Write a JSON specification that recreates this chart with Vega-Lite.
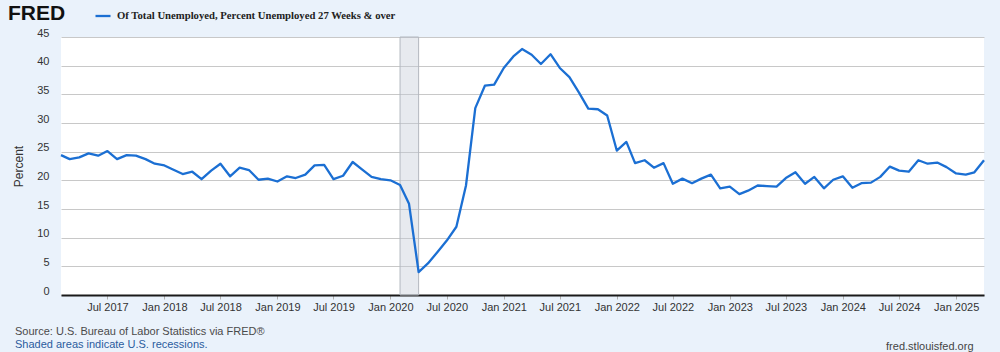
{
  "$schema": "https://vega.github.io/schema/vega-lite/v6.json",
  "width": 923,
  "height": 258,
  "autosize": {"type": "none"},
  "padding": {"left": 61, "top": 37, "right": 16, "bottom": 57},
  "background": "#eaf2fb",
  "config": {"view": {"stroke": null, "fill": "white"}},
  "title": {
    "text": "Source: U.S. Bureau of Labor Statistics via FRED®",
    "subtitle": "Shaded areas indicate U.S. recessions.",
    "orient": "bottom",
    "anchor": "start",
    "frame": "group",
    "dx": -46,
    "offset": -25,
    "font": "Liberation Sans",
    "fontSize": 11,
    "fontWeight": "normal",
    "color": "#4a4a4a",
    "subtitleFont": "Liberation Sans",
    "subtitleFontSize": 11,
    "subtitleColor": "#2b5c9e",
    "subtitlePadding": 2
  },
  "encoding": {
    "x": {
      "field": "date",
      "type": "temporal",
      "title": "fred.stlouisfed.org",
      "scale": {
        "type": "utc",
        "nice": false,
        "domain": [
          {"year": 2017, "month": 2, "date": 1, "utc": true},
          {"year": 2025, "month": 4, "date": 1, "utc": true}
        ]
      },
      "axis": {
        "tickCount": {"interval": "month", "step": 6},
        "format": "%b %Y",
        "grid": false,
        "domainColor": "#1a1a1a",
        "domainWidth": 2,
        "ticks": true,
        "tickSize": 4,
        "tickColor": "#b0b0b0",
        "labelPadding": 2,
        "labelFont": "Liberation Sans",
        "labelFontSize": 11,
        "labelColor": "#333333",
        "labelOverlap": false,
        "titleFont": "Liberation Sans",
        "titleFontSize": 11,
        "titleFontWeight": "normal",
        "titleColor": "#444444",
        "titleAnchor": "start",
        "titleAlign": "right",
        "titleBaseline": "alphabetic",
        "titleX": 912,
        "titleY": 54
      }
    }
  },
  "layer": [
    {
      "data": {"values": [{"date": "2020-02-01", "end": "2020-04-01"}]},
      "mark": {"type": "rect", "fill": "#c3cbd6", "fillOpacity": 0.4, "stroke": "#b3b8bf", "strokeWidth": 1},
      "encoding": {
        "x2": {"field": "end"}
      }
    },
    {
      "data": {"values": [
        {"date": "2017-02-01", "value": 24.4},
        {"date": "2017-03-01", "value": 23.7},
        {"date": "2017-04-01", "value": 24.0},
        {"date": "2017-05-01", "value": 24.7},
        {"date": "2017-06-01", "value": 24.3},
        {"date": "2017-07-01", "value": 25.1},
        {"date": "2017-08-01", "value": 23.7},
        {"date": "2017-09-01", "value": 24.4},
        {"date": "2017-10-01", "value": 24.3},
        {"date": "2017-11-01", "value": 23.7},
        {"date": "2017-12-01", "value": 22.9},
        {"date": "2018-01-01", "value": 22.6},
        {"date": "2018-02-01", "value": 21.8},
        {"date": "2018-03-01", "value": 21.1},
        {"date": "2018-04-01", "value": 21.5},
        {"date": "2018-05-01", "value": 20.2},
        {"date": "2018-06-01", "value": 21.7},
        {"date": "2018-07-01", "value": 22.9},
        {"date": "2018-08-01", "value": 20.7},
        {"date": "2018-09-01", "value": 22.2},
        {"date": "2018-10-01", "value": 21.8},
        {"date": "2018-11-01", "value": 20.1},
        {"date": "2018-12-01", "value": 20.3},
        {"date": "2019-01-01", "value": 19.8},
        {"date": "2019-02-01", "value": 20.7},
        {"date": "2019-03-01", "value": 20.4},
        {"date": "2019-04-01", "value": 21.0},
        {"date": "2019-05-01", "value": 22.6},
        {"date": "2019-06-01", "value": 22.7},
        {"date": "2019-07-01", "value": 20.2},
        {"date": "2019-08-01", "value": 20.8},
        {"date": "2019-09-01", "value": 23.2},
        {"date": "2019-10-01", "value": 21.9},
        {"date": "2019-11-01", "value": 20.6},
        {"date": "2019-12-01", "value": 20.2},
        {"date": "2020-01-01", "value": 20.0},
        {"date": "2020-02-01", "value": 19.2},
        {"date": "2020-03-01", "value": 15.9},
        {"date": "2020-04-01", "value": 4.0},
        {"date": "2020-05-01", "value": 5.5},
        {"date": "2020-06-01", "value": 7.5},
        {"date": "2020-07-01", "value": 9.5},
        {"date": "2020-08-01", "value": 11.9},
        {"date": "2020-09-01", "value": 19.1},
        {"date": "2020-10-01", "value": 32.6},
        {"date": "2020-11-01", "value": 36.5},
        {"date": "2020-12-01", "value": 36.7},
        {"date": "2021-01-01", "value": 39.6},
        {"date": "2021-02-01", "value": 41.6},
        {"date": "2021-03-01", "value": 42.9},
        {"date": "2021-04-01", "value": 41.9},
        {"date": "2021-05-01", "value": 40.3},
        {"date": "2021-06-01", "value": 42.0},
        {"date": "2021-07-01", "value": 39.6},
        {"date": "2021-08-01", "value": 38.0},
        {"date": "2021-09-01", "value": 35.3},
        {"date": "2021-10-01", "value": 32.5},
        {"date": "2021-11-01", "value": 32.4},
        {"date": "2021-12-01", "value": 31.3},
        {"date": "2022-01-01", "value": 25.2},
        {"date": "2022-02-01", "value": 26.7},
        {"date": "2022-03-01", "value": 23.0},
        {"date": "2022-04-01", "value": 23.5},
        {"date": "2022-05-01", "value": 22.2},
        {"date": "2022-06-01", "value": 23.0},
        {"date": "2022-07-01", "value": 19.4},
        {"date": "2022-08-01", "value": 20.3},
        {"date": "2022-09-01", "value": 19.5},
        {"date": "2022-10-01", "value": 20.3},
        {"date": "2022-11-01", "value": 21.0},
        {"date": "2022-12-01", "value": 18.6},
        {"date": "2023-01-01", "value": 18.9},
        {"date": "2023-02-01", "value": 17.6},
        {"date": "2023-03-01", "value": 18.2},
        {"date": "2023-04-01", "value": 19.1},
        {"date": "2023-05-01", "value": 19.0},
        {"date": "2023-06-01", "value": 18.9},
        {"date": "2023-07-01", "value": 20.4},
        {"date": "2023-08-01", "value": 21.4},
        {"date": "2023-09-01", "value": 19.4},
        {"date": "2023-10-01", "value": 20.6},
        {"date": "2023-11-01", "value": 18.6},
        {"date": "2023-12-01", "value": 20.1},
        {"date": "2024-01-01", "value": 20.7},
        {"date": "2024-02-01", "value": 18.7},
        {"date": "2024-03-01", "value": 19.5},
        {"date": "2024-04-01", "value": 19.6},
        {"date": "2024-05-01", "value": 20.6},
        {"date": "2024-06-01", "value": 22.4},
        {"date": "2024-07-01", "value": 21.7},
        {"date": "2024-08-01", "value": 21.5},
        {"date": "2024-09-01", "value": 23.5},
        {"date": "2024-10-01", "value": 22.9},
        {"date": "2024-11-01", "value": 23.1},
        {"date": "2024-12-01", "value": 22.3},
        {"date": "2025-01-01", "value": 21.2},
        {"date": "2025-02-01", "value": 21.0},
        {"date": "2025-03-01", "value": 21.4},
        {"date": "2025-04-01", "value": 23.5}
      ]},
      "mark": {"type": "line", "strokeWidth": 2.3, "strokeJoin": "round"},
      "encoding": {
        "y": {
          "field": "value",
          "type": "quantitative",
          "title": "Percent",
          "scale": {"domain": [0, 45], "nice": false},
          "axis": {
            "values": [0, 5, 10, 15, 20, 25, 30, 35, 40, 45],
            "domain": false,
            "ticks": false,
            "gridColor": "#c8c8c8",
            "gridWidth": 1,
            "labelFont": "Liberation Sans",
            "labelFontSize": 11,
            "labelColor": "#333333",
            "labelPadding": 12,
            "labelBaseline": "alphabetic",
            "labelOffset": -1,
            "titleFont": "Liberation Sans",
            "titleFontSize": 12,
            "titleFontWeight": "normal",
            "titleColor": "#333333",
            "titlePadding": 11
          }
        },
        "color": {
          "datum": "Of Total Unemployed, Percent Unemployed 27 Weeks & over",
          "type": "nominal",
          "scale": {"range": ["#1b6fd3"]},
          "legend": {
            "orient": "none",
            "legendX": -53,
            "legendY": -30,
            "direction": "horizontal",
            "title": "FRED",
            "titleOrient": "left",
            "titleFont": "Liberation Sans",
            "titleFontSize": 21,
            "titleFontWeight": "bold",
            "titleColor": "#111111",
            "titlePadding": 28,
            "symbolType": "stroke",
            "symbolSize": 225,
            "symbolStrokeWidth": 2.3,
            "labelFont": "Liberation Serif",
            "labelFontWeight": "bold",
            "labelFontSize": 10.7,
            "labelColor": "#222222",
            "labelOffset": 5,
            "labelLimit": 0
          }
        }
      }
    }
  ]
}
